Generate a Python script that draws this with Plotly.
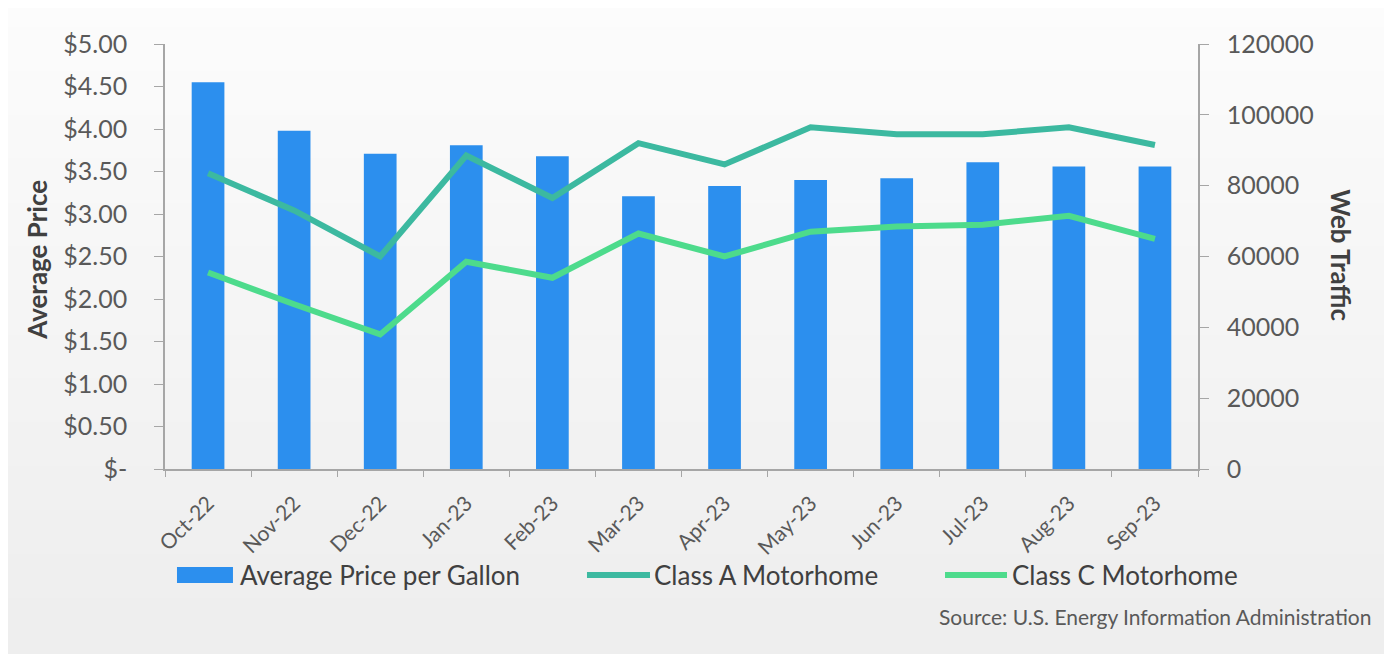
import plotly.graph_objects as go

# monthly data
months = ["Oct-22", "Nov-22", "Dec-22", "Jan-23", "Feb-23", "Mar-23",
          "Apr-23", "May-23", "Jun-23", "Jul-23", "Aug-23", "Sep-23"]
avg_price = [4.55, 3.98, 3.71, 3.81, 3.68, 3.21, 3.33, 3.40, 3.42, 3.61, 3.56, 3.56]
class_a = [83500, 73000, 60000, 88500, 76500, 92000, 86000, 96500, 94500, 94500, 96500, 91500]
class_c = [55500, 46500, 38000, 58500, 54000, 66500, 60000, 67000, 68500, 69000, 71500, 65000]

price_ticks = [0, 0.5, 1, 1.5, 2, 2.5, 3, 3.5, 4, 4.5, 5]
price_labels = ["$-", "$0.50", "$1.00", "$1.50", "$2.00", "$2.50",
                "$3.00", "$3.50", "$4.00", "$4.50", "$5.00"]
traffic_ticks = [0, 20000, 40000, 60000, 80000, 100000, 120000]

series_names = ["Average Price per Gallon", "Class A Motorhome", "Class C Motorhome"]
BAR_COLOR = "#2c8fee"
A_COLOR = "#3cb9a0"
C_COLOR = "#4ddb8c"

FONT = "Lato, 'Open Sans', sans-serif"
TICK_COLOR = "#595959"
TITLE_COLOR = "#404040"
AXIS_COLOR = "#a6a6a6"

fig = go.Figure()

fig.add_trace(go.Bar(x=months, y=avg_price, name=series_names[0],
                     marker=dict(color=BAR_COLOR, line=dict(width=0)), yaxis="y"))
fig.add_trace(go.Scatter(x=months, y=class_a, name=series_names[1], mode="lines",
                         line=dict(color=A_COLOR, width=6), yaxis="y2"))
fig.add_trace(go.Scatter(x=months, y=class_c, name=series_names[2], mode="lines",
                         line=dict(color=C_COLOR, width=6), yaxis="y2"))

# soft white-to-grey background, like the original slide
shapes = []
n_bands = 30
y_lo, y_hi = -0.46, 1.09
for i in range(n_bands):
    t = i / (n_bands - 1)
    c = int(252 - 14 * t)
    shapes.append(dict(type="rect", xref="paper", yref="paper", layer="below",
                       x0=-0.2, x1=1.25,
                       y0=y_hi - (i + 1) * (y_hi - y_lo) / n_bands,
                       y1=y_hi - i * (y_hi - y_lo) / n_bands + 0.002,
                       fillcolor=f"rgb({c},{c},{c})", line=dict(width=0)))

# hand-made legend (swatch sizes of the original)
shapes.append(dict(type="rect", xref="paper", yref="paper",
                   x0=0.0116, x1=0.0658, y0=-0.268, y1=-0.2306,
                   fillcolor=BAR_COLOR, line=dict(width=0)))
shapes.append(dict(type="line", xref="paper", yref="paper",
                   x0=0.4085, x1=0.4695, y0=-0.2494, y1=-0.2494,
                   line=dict(color=A_COLOR, width=6)))
shapes.append(dict(type="line", xref="paper", yref="paper",
                   x0=0.7551, x1=0.8151, y0=-0.2494, y1=-0.2494,
                   line=dict(color=C_COLOR, width=6)))

legend_text_x = [0.0707, 0.4714, 0.818]
annotations = [
    dict(text=name, xref="paper", yref="paper", x=lx, y=-0.2494,
         xanchor="left", yanchor="middle", showarrow=False,
         font=dict(size=26, color=TITLE_COLOR))
    for name, lx in zip(series_names, legend_text_x)
]
annotations += [
    dict(text="<b>Average Price</b>", xref="paper", yref="paper",
         x=-0.124, y=0.492, xanchor="center", yanchor="middle",
         textangle=-90, showarrow=False, font=dict(size=26, color=TITLE_COLOR)),
    dict(text="<b>Web Traffic</b>", xref="paper", yref="paper",
         x=1.1385, y=0.503, xanchor="center", yanchor="middle",
         textangle=90, showarrow=False, font=dict(size=26, color=TITLE_COLOR)),
    dict(text="Source: U.S. Energy Information Administration", xref="paper", yref="paper",
         x=1.1694, y=-0.348, xanchor="right", yanchor="middle",
         showarrow=False, font=dict(size=21, color=TICK_COLOR)),
]

fig.update_layout(
    width=1392,
    height=654,
    # the page body adds 8px, so margins are shifted to keep the plot area in place
    margin=dict(l=157, r=202, t=36, b=193),
    paper_bgcolor="#efefef",
    plot_bgcolor="rgba(0,0,0,0)",
    font=dict(family=FONT, color=TICK_COLOR),
    bargap=0.62,
    showlegend=False,
    xaxis=dict(
        type="category",
        tickangle=-45,
        tickfont=dict(size=21, color=TICK_COLOR),
        ticklabelstandoff=12,
        showline=True,
        linecolor=AXIS_COLOR,
        linewidth=1.5,
        ticks="outside",
        tickson="boundaries",
        ticklen=6,
        tickcolor=AXIS_COLOR,
        showgrid=False,
    ),
    yaxis=dict(
        range=[0, 5],
        tickvals=price_ticks,
        ticktext=price_labels,
        tickfont=dict(size=25, color=TICK_COLOR),
        ticklabelstandoff=22,
        showline=True,
        linecolor=AXIS_COLOR,
        linewidth=1.5,
        ticks="outside",
        ticklen=9,
        tickcolor=AXIS_COLOR,
        showgrid=False,
        zeroline=False,
    ),
    yaxis2=dict(
        overlaying="y",
        side="right",
        range=[0, 120000],
        tickvals=traffic_ticks,
        ticktext=[str(t) for t in traffic_ticks],
        tickfont=dict(size=25, color=TICK_COLOR),
        ticklabelstandoff=13,
        showline=True,
        linecolor=AXIS_COLOR,
        linewidth=1.5,
        ticks="outside",
        ticklen=9,
        tickcolor=AXIS_COLOR,
        showgrid=False,
        zeroline=False,
    ),
    shapes=shapes,
    annotations=annotations,
)

fig.write_html("out.html")
